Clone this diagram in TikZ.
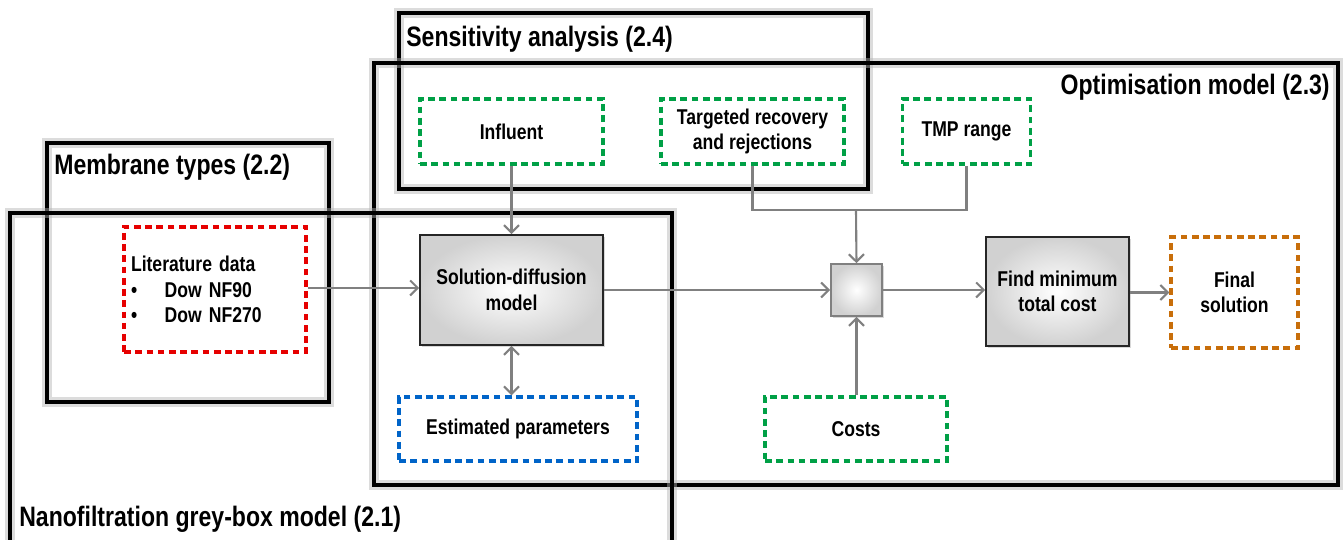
\documentclass[tikz,border=0pt]{standalone}
\usepackage{fontspec}
\setmainfont{Liberation Sans}[FakeStretch=0.82]
\usetikzlibrary{arrows.meta,shadows}
\definecolor{boxGreen}{RGB}{0,160,70}
\definecolor{boxRed}{RGB}{230,0,0}
\definecolor{boxBlue}{RGB}{0,100,200}
\definecolor{boxOrange}{RGB}{200,110,10}
\definecolor{linkGrey}{RGB}{128,128,128}

\tikzset{
  frame/.style={draw=black,line width=2.2pt,
    preaction={draw=black!30,line width=5.5pt,opacity=0.45}},
  frametitle/.style={font=\bfseries\fontsize{16}{18}\selectfont,inner sep=0pt},
  inbox/.style={draw,line width=1.8pt,dash pattern=on 3.8pt off 2.6pt,
    font=\bfseries\fontsize{12.2}{14.5}\selectfont,align=center,inner sep=2pt},
  procbox/.style={draw=black!85,line width=0.9pt,
    inner color=white,outer color=black!18,
    drop shadow={shadow xshift=1pt,shadow yshift=-1pt,opacity=0.3},
    font=\bfseries\fontsize{12.2}{14.5}\selectfont,align=center,inner sep=2pt},
  link/.style={draw=linkGrey,line width=1.2pt},
  arr/.style={link,-{Straight Barb[length=1.5mm,width=3mm]}}
}

\begin{document}
\begin{tikzpicture}[x=0.02cm,y=-0.02cm]
\clip (0,0) rectangle (1343,540);
\fill[white] (0,0) rectangle (1343,540);

% Draw frames
\draw[frame] (399,13) rectangle (868,189);
\draw[frame] (374,63) rectangle (1338,485);
\draw[frame] (47,143) rectangle (329,402);
\draw[frame] (10,213) rectangle (672,548);

% Frame titles
\node[frametitle,anchor=west] (tsens) at (406,39) {Sensitivity analysis (2.4)};
\node[frametitle,anchor=east] (topt) at (1330,87) {Optimisation model (2.3)};
\node[frametitle,anchor=west] (tmem) at (54,167) {Membrane types (2.2)};
\node[frametitle,anchor=west] (tnf) at (19,519) {Nanofiltration grey-box model (2.1)};

% Inputs
\node[inbox,draw=boxGreen,minimum width=3.66cm,minimum height=1.3cm] (infl) at (511.5,131.5) {Influent};
\node[inbox,draw=boxGreen,minimum width=3.66cm,minimum height=1.3cm] (tgt) at (752.5,131.5) {Targeted recovery\\and rejections};
\node[inbox,draw=boxGreen,minimum width=2.56cm,minimum height=1.3cm] (tmp) at (966.5,131.5) {TMP range};
\node[inbox,draw=boxRed,minimum width=3.64cm,minimum height=2.5cm,text width=3.36cm,align=left] (lit) at (215,289.5)
  {Literature data\\ \textbullet\hspace{5.5mm}Dow NF90\\ \textbullet\hspace{5.5mm}Dow NF270};
\node[inbox,draw=boxBlue,minimum width=4.76cm,minimum height=1.28cm] (est) at (518,429) {Estimated parameters};
\node[inbox,draw=boxGreen,minimum width=3.64cm,minimum height=1.28cm] (cost) at (856,429) {Costs};

% Process blocks
\node[procbox,minimum width=3.66cm,minimum height=2.2cm] (sd) at (511.5,290) {Solution-diffusion\\model};
\node[procbox,draw=linkGrey,minimum width=1.02cm,minimum height=1.04cm] (jn) at (856.5,290) {};
\node[procbox,minimum width=2.86cm,minimum height=2.18cm] (fmin) at (1057.5,291.5) {Find minimum\\total cost};
\node[inbox,draw=boxOrange,minimum width=2.54cm,minimum height=2.22cm] (fin) at (1234.5,292.5) {Final\\solution};

% Connectors
\coordinate (mrg) at (856,210);
\draw[arr] (infl.south) -- (sd.north);
\draw[arr] (lit.east |- 0,288) -- (sd.west |- 0,288);
\draw[link,{Straight Barb[length=1.5mm,width=3mm]}-{Straight Barb[length=1.5mm,width=3mm]}] (sd.south) -- (sd.south |- est.north);
\draw[arr] (sd.east) -- (jn.west);
\draw[link] (tgt.south) |- (mrg) -| (tmp.south);
\draw[arr] (mrg) -- (jn.north);
\draw[arr] (cost.north -| jn.south) -- (jn.south);
\draw[arr] (jn.east) -- (fmin.west |- jn.east);
\draw[arr] (fmin.east |- fin.west) -- (fin.west);
\end{tikzpicture}
\end{document}
